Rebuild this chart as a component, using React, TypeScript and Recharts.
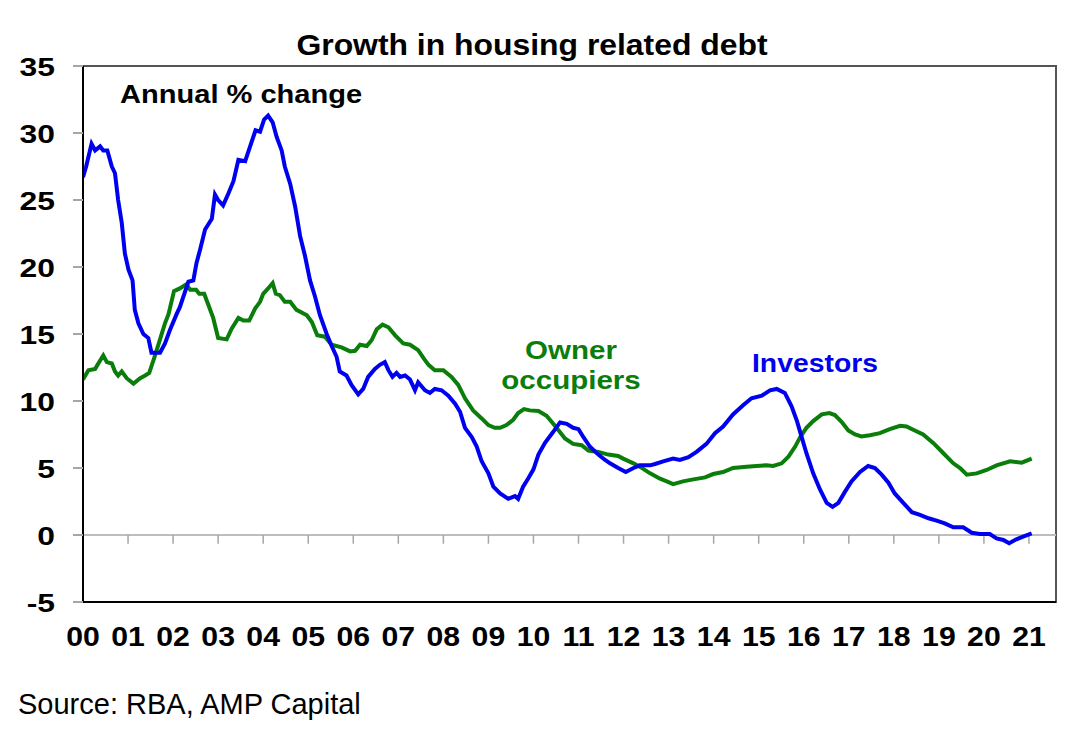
import React from 'react';
import { LineChart, Line, XAxis, YAxis, ReferenceLine, ReferenceArea } from 'recharts';

// Investors: annual % change in housing debt (decimal year, value)
const investorYears = [
  2000.00, 2000.07, 2000.19, 2000.27, 2000.38, 2000.45, 2000.54, 2000.64, 2000.71, 2000.78, 2000.86, 2000.93,
  2001.01, 2001.10, 2001.15, 2001.23, 2001.34, 2001.45, 2001.52, 2001.71, 2001.82, 2001.93,
  2002.08, 2002.15, 2002.23, 2002.34, 2002.45, 2002.52, 2002.60, 2002.71, 2002.86, 2002.93,
  2003.00, 2003.11, 2003.23, 2003.34, 2003.45, 2003.60, 2003.71, 2003.83, 2003.93,
  2004.02, 2004.11, 2004.21, 2004.30, 2004.41, 2004.48, 2004.60, 2004.71, 2004.82, 2004.93,
  2005.04, 2005.15, 2005.26, 2005.41, 2005.52, 2005.63, 2005.70, 2005.85, 2005.96,
  2006.11, 2006.22, 2006.33, 2006.48, 2006.59, 2006.70, 2006.78, 2006.87, 2006.96,
  2007.04, 2007.15, 2007.26, 2007.37, 2007.44, 2007.59, 2007.70, 2007.81, 2007.96,
  2008.11, 2008.26, 2008.37, 2008.48, 2008.63, 2008.74, 2008.85,
  2009.00, 2009.11, 2009.26, 2009.44, 2009.59, 2009.66, 2009.77, 2009.88,
  2010.00, 2010.11, 2010.26, 2010.44, 2010.59, 2010.74, 2010.88,
  2011.00, 2011.11, 2011.25, 2011.44, 2011.59, 2011.70, 2011.88,
  2012.05, 2012.22, 2012.36, 2012.59, 2012.70, 2012.88,
  2013.10, 2013.25, 2013.44, 2013.62, 2013.84,
  2014.03, 2014.21, 2014.43, 2014.66, 2014.84,
  2015.07, 2015.25, 2015.40, 2015.58, 2015.73, 2015.85, 2015.92,
  2016.06, 2016.21, 2016.36, 2016.51, 2016.64, 2016.77, 2016.91,
  2017.06, 2017.25, 2017.43, 2017.58, 2017.73, 2017.88,
  2018.02, 2018.21, 2018.40, 2018.58, 2018.77, 2018.95,
  2019.13, 2019.32, 2019.54, 2019.73, 2019.91,
  2020.13, 2020.28, 2020.43, 2020.56, 2020.72, 2020.87, 2021.06,
];
const investorGrowth = [
  26.7, 27.5, 29.2, 28.7, 29.0, 28.7, 28.7, 27.5, 27.0, 25.0, 23.3, 21.0,
  19.8, 19.0, 16.8, 15.8, 15.0, 14.7, 13.6, 13.6, 14.3, 15.3,
  16.5, 17.0, 17.8, 18.9, 19.0, 20.3, 21.3, 22.8, 23.6, 25.4,
  25.0, 24.6, 25.5, 26.4, 28.0, 27.9, 29.0, 30.2, 30.1,
  31.0, 31.3, 30.8, 29.7, 28.7, 27.5, 26.2, 24.5, 22.3, 20.8,
  19.0, 17.8, 16.4, 15.0, 14.1, 13.3, 12.2, 11.9, 11.2,
  10.5, 10.9, 11.8, 12.4, 12.7, 12.9, 12.3, 11.8, 12.1,
  11.8, 11.9, 11.6, 10.8, 11.4, 10.8, 10.6, 10.9, 10.8,
  10.4, 9.8, 9.2, 8.0, 7.3, 6.6, 5.5,
  4.6, 3.6, 3.1, 2.7, 2.9, 2.7, 3.6, 4.2,
  4.9, 6.0, 6.9, 7.7, 8.4, 8.3, 8.0,
  7.9, 7.3, 6.6, 6.0, 5.6, 5.35, 5.0,
  4.7, 5.0, 5.2, 5.2, 5.3, 5.5,
  5.7, 5.6, 5.8, 6.2, 6.8,
  7.6, 8.1, 9.0, 9.7, 10.2,
  10.4, 10.8, 10.9, 10.6, 9.6, 8.5, 7.7,
  6.1, 4.6, 3.4, 2.4, 2.1, 2.4, 3.2,
  4.0, 4.7, 5.15, 5.0, 4.5, 3.9,
  3.1, 2.4, 1.7, 1.5, 1.25, 1.07,
  0.87, 0.57, 0.57, 0.17, 0.07,
  0.07, -0.25, -0.37, -0.62, -0.32, -0.12, 0.12,
];

// Owner occupiers: annual % change in housing debt (decimal year, value)
const ownerYears = [
  2000.00, 2000.12, 2000.27, 2000.34, 2000.45, 2000.53, 2000.64, 2000.71, 2000.78, 2000.86, 2000.97,
  2001.12, 2001.27, 2001.38, 2001.47, 2001.58, 2001.71, 2001.82, 2001.90,
  2002.02, 2002.15, 2002.29, 2002.38, 2002.51, 2002.58, 2002.69, 2002.78, 2002.89,
  2003.00, 2003.19, 2003.30, 2003.45, 2003.56, 2003.69, 2003.82, 2003.93,
  2004.00, 2004.11, 2004.21, 2004.28, 2004.37, 2004.48, 2004.60, 2004.74, 2004.97,
  2005.08, 2005.20, 2005.37, 2005.52, 2005.74, 2005.93,
  2006.04, 2006.15, 2006.30, 2006.41, 2006.52, 2006.65, 2006.78, 2006.93,
  2007.11, 2007.26, 2007.44, 2007.56, 2007.67, 2007.81,
  2008.00, 2008.18, 2008.33, 2008.48, 2008.66, 2008.85,
  2009.00, 2009.14, 2009.26, 2009.40, 2009.55, 2009.66, 2009.79, 2009.92,
  2010.11, 2010.29, 2010.44, 2010.56, 2010.70, 2010.88,
  2011.07, 2011.22, 2011.44, 2011.66, 2011.88, 2011.99,
  2012.22, 2012.36, 2012.59, 2012.81, 2012.96,
  2013.10, 2013.32, 2013.55, 2013.81, 2013.99,
  2014.21, 2014.43, 2014.73, 2014.95,
  2015.17, 2015.32, 2015.51, 2015.66, 2015.81, 2015.92,
  2016.06, 2016.21, 2016.40, 2016.57, 2016.69, 2016.84, 2016.99,
  2017.14, 2017.28, 2017.47, 2017.69, 2017.91,
  2018.14, 2018.28, 2018.43, 2018.65, 2018.88,
  2019.10, 2019.32, 2019.47, 2019.62, 2019.84,
  2020.06, 2020.28, 2020.58, 2020.84, 2021.06,
];
const ownerGrowth = [
  11.6, 12.3, 12.4, 12.8, 13.4, 12.9, 12.8, 12.2, 11.9, 12.2, 11.7,
  11.3, 11.7, 11.9, 12.1, 13.2, 14.6, 15.8, 16.5,
  18.2, 18.4, 18.7, 18.3, 18.3, 18.0, 18.0, 17.2, 16.2,
  14.7, 14.6, 15.4, 16.2, 16.0, 16.0, 16.9, 17.4,
  18.0, 18.4, 18.8, 18.0, 17.9, 17.4, 17.4, 16.8, 16.4,
  15.9, 14.9, 14.8, 14.2, 14.0, 13.7,
  13.75, 14.2, 14.1, 14.55, 15.35, 15.7, 15.5, 14.9,
  14.3, 14.2, 13.8, 13.2, 12.7, 12.3,
  12.3, 11.8, 11.2, 10.2, 9.3, 8.7,
  8.2, 8.0, 8.0, 8.2, 8.6, 9.1, 9.4, 9.3,
  9.25, 8.9, 8.3, 7.8, 7.2, 6.8,
  6.7, 6.3, 6.2, 6.0, 5.9, 5.7,
  5.35, 5.1, 4.6, 4.2, 4.0,
  3.8, 4.0, 4.15, 4.3, 4.55,
  4.7, 5.0, 5.1, 5.15,
  5.2, 5.15, 5.35, 5.85, 6.6, 7.3,
  8.0, 8.5, 9.0, 9.1, 8.95, 8.45, 7.8,
  7.5, 7.35, 7.45, 7.6, 7.9,
  8.15, 8.1, 7.85, 7.5, 6.85,
  6.1, 5.35, 5.0, 4.5, 4.6,
  4.85, 5.2, 5.5, 5.4, 5.7,
];

const yearTicks = [
  2000, 2001, 2002, 2003, 2004, 2005, 2006, 2007, 2008, 2009, 2010,
  2011, 2012, 2013, 2014, 2015, 2016, 2017, 2018, 2019, 2020, 2021,
];
const valueTicks = [-5, 0, 5, 10, 15, 20, 25, 30, 35];

const investorData = investorYears.map((t, i) => ({ t, v: investorGrowth[i] }));
const ownerData = ownerYears.map((t, i) => ({ t, v: ownerGrowth[i] }));

const FONT = '"Liberation Sans", Arial, Helvetica, sans-serif';
const BLUE = '#0000f0';
const GREEN = '#0a7d0a';

const XTick = (props: any) => {
  const { x, y, payload } = props;
  const label = String(payload.value % 100).padStart(2, '0');
  return (
    <g transform={`translate(${x},${y + 44})`}>
      <text transform="scale(1.12,1)" textAnchor="middle" fontSize={27} fontWeight="bold" fontFamily={FONT} fill="#000">
        {label}
      </text>
    </g>
  );
};

const YTick = (props: any) => {
  const { x, y, payload } = props;
  return (
    <g transform={`translate(${x},${y + 9.5})`}>
      <text transform="scale(1.2,1)" textAnchor="end" fontSize={26.5} fontWeight="bold" fontFamily={FONT} fill="#000">
        {payload.value}
      </text>
    </g>
  );
};

const Stretch = ({ x, y, sx, size, anchor = 'start', weight = 'bold', color = '#000', children }: any) => (
  <g transform={`translate(${x},${y})`}>
    <text transform={`scale(${sx},1)`} textAnchor={anchor} fontSize={size} fontWeight={weight} fontFamily={FONT} fill={color}>
      {children}
    </text>
  </g>
);

export default function App() {
  return (
    <div style={{ position: 'absolute', left: 0, top: 0, width: 1086, height: 742, background: '#fff' }}>
      <LineChart width={1086} height={742} margin={{ top: 66, right: 30, bottom: 0, left: 0 }}>
        <ReferenceArea x1={2000} x2={2021.6} y1={-5} y2={35} fill="none" stroke="#555" strokeWidth={2} ifOverflow="visible" />
        <XAxis
          dataKey="t"
          type="number"
          domain={[2000, 2021.6]}
          ticks={yearTicks}
          allowDataOverflow
          height={140}
          tickLine={false}
          tickSize={0}
          tickMargin={0}
          axisLine={{ stroke: '#000', strokeWidth: 2 }}
          tick={<XTick />}
          interval={0}
        />
        <YAxis
          type="number"
          domain={[-5, 35]}
          ticks={valueTicks}
          width={83}
          tickSize={10}
          tickMargin={18}
          tickLine={{ stroke: '#a6a6a6', strokeWidth: 2 }}
          axisLine={{ stroke: '#000', strokeWidth: 2 }}
          tick={<YTick />}
          interval={0}
        />
        <ReferenceLine y={0} stroke="#bdbdbd" strokeWidth={2} />
        {yearTicks.slice(1).map((yr) => (
          <ReferenceLine
            key={yr}
            segment={[{ x: yr, y: 0 }, { x: yr, y: -0.65 }]}
            stroke="#a6a6a6"
            strokeWidth={1.5}
          />
        ))}
        <Line data={ownerData} dataKey="v" type="linear" stroke={GREEN} strokeWidth={4} dot={false} isAnimationActive={false} />
        <Line data={investorData} dataKey="v" type="linear" stroke={BLUE} strokeWidth={4} dot={false} isAnimationActive={false} />
      </LineChart>
      <svg width={1086} height={742} style={{ position: 'absolute', left: 0, top: 0, pointerEvents: 'none' }}>
        <Stretch x={532} y={54.5} sx={1.1} size={29} anchor="middle">Growth in housing related debt</Stretch>
        <Stretch x={120} y={102.7} sx={1.14} size={25.5}>Annual % change</Stretch>
        <Stretch x={571} y={359} sx={1.115} size={26.5} anchor="middle" color={GREEN}>Owner</Stretch>
        <Stretch x={571} y={389} sx={1.115} size={26.5} anchor="middle" color={GREEN}>occupiers</Stretch>
        <Stretch x={752} y={372} sx={1.09} size={26} color={BLUE}>Investors</Stretch>
        <Stretch x={18} y={714} sx={1.0} size={29} weight="normal">Source: RBA, AMP Capital</Stretch>
      </svg>
    </div>
  );
}
